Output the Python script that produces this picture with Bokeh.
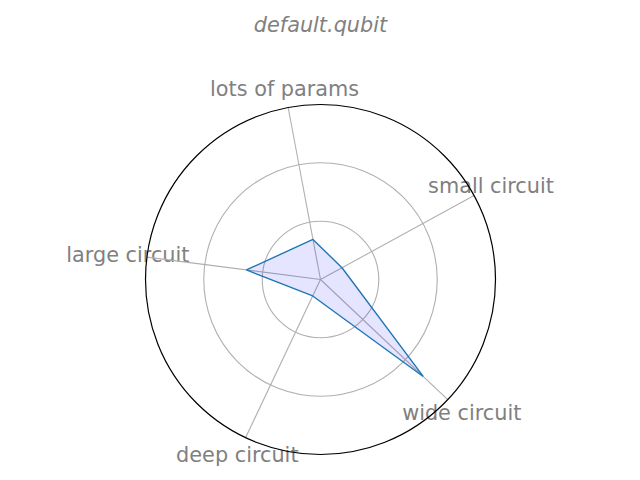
import numpy as np
from bokeh.plotting import figure
from bokeh.models import ColumnDataSource
from bokeh.core.properties import value
from bokeh.embed import file_html
from bokeh.resources import INLINE

categories = ["small circuit", "lots of params", "large circuit", "deep circuit", "wide circuit"]
values = [0.14, 0.233, 0.427, 0.104, 0.807]
grid_r = [0.333, 0.667]
title_text = "default.qubit"

START = 0.5  # radians
SCALE = 175.0
W, H = 640, 480
CX, CY = 320, 279
LABEL_R = 1.11

n = len(categories)
theta = START + 2 * np.pi * np.arange(n) / n

p = figure(width=W, height=H, output_backend="svg", toolbar_location=None,
           x_range=(-CX / SCALE, (W - CX) / SCALE),
           y_range=(-(H - CY) / SCALE, CY / SCALE),
           min_border=0, tools="")
p.axis.visible = False
p.grid.visible = False
p.outline_line_color = None
p.background_fill_color = "white"
p.border_fill_color = "white"

# category labels (drawn first so lines pass over them, as in the reference)
src = ColumnDataSource(dict(x=list(LABEL_R * np.cos(theta)), y=list(LABEL_R * np.sin(theta)),
                            t=categories))
p.text(x="x", y="y", text="t", source=src, text_align="center", text_baseline="middle",
       text_font=value("DejaVu Sans"), text_font_size="20.8px", text_color="#808080")

# title
p.text(x=[0], y=[(CY - 24) / SCALE], text=[title_text], text_align="center",
       text_baseline="middle", text_font=value("DejaVu Sans"),
       text_font_style="italic", text_font_size="20.8px", text_color="#808080")

# grid circles
p.circle(x=[0] * len(grid_r), y=[0] * len(grid_r), radius=grid_r,
         fill_color=None, line_color="#b0b0b0", line_width=1.1)
# spokes
p.segment(x0=[0] * n, y0=[0] * n, x1=list(np.cos(theta)), y1=list(np.sin(theta)),
          line_color="#b0b0b0", line_width=1.1)

# data polygon
vals = np.array(values)
xs = list(vals * np.cos(theta)) + [vals[0] * np.cos(theta[0])]
ys = list(vals * np.sin(theta)) + [vals[0] * np.sin(theta[0])]
p.patch(xs, ys, fill_color="blue", fill_alpha=0.1, line_color="#1f77b4", line_width=1.4)

# outer circle
p.circle(x=[0], y=[0], radius=[1.0], fill_color=None, line_color="black", line_width=1.2)

open("out.html", "w").write(file_html(p, INLINE))
